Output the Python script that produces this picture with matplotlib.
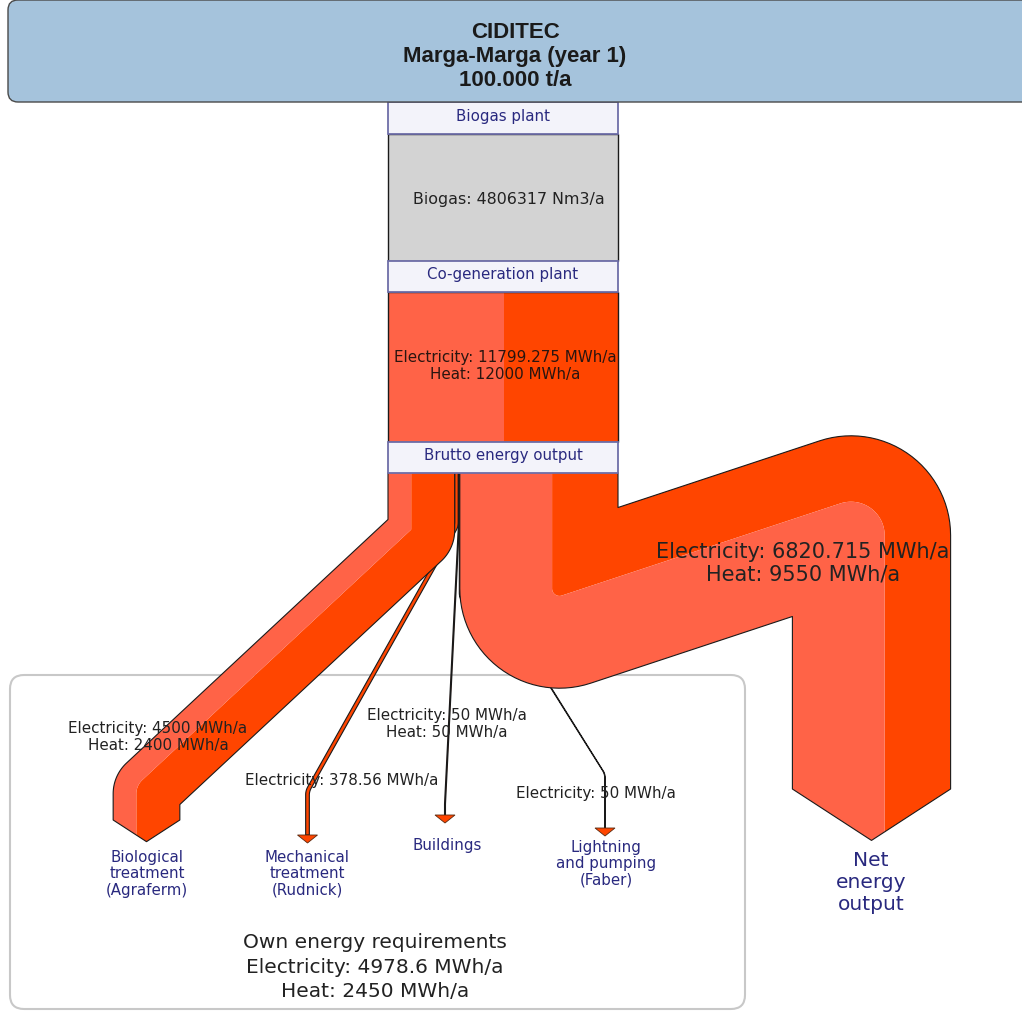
import numpy as np
import matplotlib
matplotlib.use("Agg")
import matplotlib.pyplot as plt
from matplotlib.patches import Rectangle, FancyBboxPatch, Polygon

# ---- data ----
title_lines = ["CIDITEC", "Marga-Marga (year 1)", "100.000 t/a"]
stages = ["Biogas plant", "Co-generation plant", "Brutto energy output"]
biogas_nm3 = 4806317
targets = ["Biological\ntreatment\n(Agraferm)", "Mechanical\ntreatment\n(Rudnick)",
           "Buildings", "Lightning\nand pumping\n(Faber)", "Net\nenergy\noutput"]
electricity = [4500, 378.56, 50, 50, 6820.715]
heat = [2400, 0, 50, 0, 9550]

# ---- layout (pixels) ----
X0, X1 = 388, 618            # main column
Y_OUT = 474                  # bottom of "Brutto energy output"
# centre-line waypoints after the start point (None -> start x)
routes = [
    [(None, 535), (146.5, 791), (146.5, 821)],
    [(None, 527), (307.5, 792), (307.5, 836)],
    [(None, 527), (445, 805), (445, 816)],
    [(None, 600), (548, 684), (605, 775), (605, 829)],
    [(None, 618), (871.5, 508), (871.5, 790)],
]
flow_label_pos = [(158, 737), (342, 781), (447, 724), (596, 794), (803, 563)]
target_label_pos = [(147, 874), (307, 874), (447, 846), (606, 864), (871, 883)]

HEAT_C = "#FF6347"
ELEC_C = "#FF4500"
NAVY = "#29297F"
TXT = "#222222"


def fmt(v, nd=3):
    s = ("%." + str(nd) + "f") % v
    return s.rstrip("0").rstrip(".")


def unit(v):
    return v / np.hypot(v[0], v[1])


def normal(u):
    return np.array([-u[1], u[0]])


def boundary(pts, off, w, bend):
    out = [pts[0] + normal(unit(pts[1] - pts[0])) * off]
    for i in range(1, len(pts) - 1):
        u1 = unit(pts[i] - pts[i - 1])
        u2 = unit(pts[i + 1] - pts[i])
        n1, n2 = normal(u1), normal(u2)
        z = u1[0] * u2[1] - u1[1] * u2[0]
        m = unit(n1 + n2)
        corner = pts[i] + m * off / np.dot(m, n1)
        if abs(z) < 1e-9:
            out.append(corner)
            continue
        # distance from the inner edge decides how round the corner is
        d = (w / 2 - off) if z > 0 else (off + w / 2)
        r = max(0.0, d - 0.37 * w) + bend
        phi = np.arccos(np.clip(np.dot(u1, u2), -1, 1))
        t = r * np.tan(phi / 2)
        a = corner - u1 * t
        b = corner + u2 * t
        c = a + (n1 if z > 0 else -n1) * r
        a0 = np.arctan2(a[1] - c[1], a[0] - c[0])
        a1 = np.arctan2(b[1] - c[1], b[0] - c[0])
        da = (a1 - a0 + np.pi) % (2 * np.pi) - np.pi
        for s in np.linspace(0, 1, 30):
            ang = a0 + da * s
            out.append(c + r * np.array([np.cos(ang), np.sin(ang)]))
    out.append(pts[-1] + normal(unit(pts[-1] - pts[-2])) * off)
    return np.array(out)


fig = plt.figure(figsize=(10.22, 10.12), dpi=100)
ax = fig.add_axes([0, 0, 1, 1])
ax.set_xlim(0, 1022)
ax.set_ylim(1012, 0)
ax.axis("off")

total_e = sum(electricity)
total_h = sum(heat)
scale = (X1 - X0) / (total_e + total_h)

# own energy requirements frame
own_e = sum(electricity[:-1])
own_h = sum(heat[:-1])
ax.add_patch(FancyBboxPatch((10, 676), 735, 334, boxstyle="round,pad=0,rounding_size=14",
                            fc="white", ec="#C8C8C8", lw=1.5, zorder=1))
ax.text(375, 943, "Own energy requirements", ha="center", va="center", fontsize=14.5, color=TXT, zorder=6)
ax.text(375, 968, "Electricity: " + fmt(own_e, 1) + " MWh/a", ha="center", va="center",
        fontsize=14.5, color=TXT, zorder=6)
ax.text(375, 992, "Heat: " + fmt(own_h, 1) + " MWh/a", ha="center", va="center",
        fontsize=14.5, color=TXT, zorder=6)

# flows
pos = X0
for i, (e, h) in enumerate(zip(electricity, heat)):
    w = (e + h) * scale
    wh = h * scale
    sx = pos + w / 2
    pos += w
    pts = [np.array([sx, Y_OUT], float)]
    for (px, py) in routes[i]:
        pts.append(np.array([sx if px is None else px, py], float))
    thin = w < 10
    bend = 14 if thin else 0
    z = 2 if thin else 3
    u_end = unit(pts[-1] - pts[-2])
    n_end = normal(u_end)
    depth = 0 if thin else 0.65 * w / 2

    def edge(off):
        b = boundary(pts, off, w, bend)
        b[-1] = pts[-1] + n_end * off + u_end * depth * (1 - abs(off) / (w / 2))
        return b

    tip = pts[-1] + u_end * depth
    bands = [(-w / 2, w / 2 - wh, ELEC_C), (w / 2 - wh, w / 2, HEAT_C)]
    for o1, o2, col in bands:
        if o2 - o1 <= 1e-6:
            continue
        poly = list(edge(o1))
        if o1 < 0 < o2:
            poly.append(tip)
        poly += list(edge(o2)[::-1])
        ax.add_patch(Polygon(poly, closed=True, fc=col, ec="none", zorder=z))
    left, right = edge(-w / 2), edge(w / 2)
    outline = np.vstack([left, tip[None, :], right[::-1]])
    ax.plot(outline[:, 0], outline[:, 1], color="#1a1a1a", lw=0.8, zorder=z + 0.1)
    if thin:
        base = pts[-1]
        head = [base + n_end * 10, base - n_end * 10, base + u_end * 8]
        ax.add_patch(Polygon(head, closed=True, fc=ELEC_C, ec="#5a2a10", lw=0.6, zorder=z + 0.2))

    lines = ["Electricity: " + fmt(e) + " MWh/a"]
    if h > 0:
        lines.append("Heat: " + fmt(h) + " MWh/a")
    big = i == len(targets) - 1
    fx, fy = flow_label_pos[i]
    ax.text(fx, fy, "\n".join(lines), ha="center", va="center", fontsize=15 if big else 10.9,
            color=TXT, linespacing=1.15, zorder=6)
    tx, ty = target_label_pos[i]
    ax.text(tx, ty, targets[i], ha="center", va="center", fontsize=14.5 if big else 10.8,
            color=NAVY, linespacing=1.2 if big else 1.12, zorder=6)

# main column
wh_tot = total_h * scale
ax.add_patch(Rectangle((X0, 293), wh_tot, 150, fc=HEAT_C, ec="none", zorder=4))
ax.add_patch(Rectangle((X0 + wh_tot, 293), X1 - X0 - wh_tot, 150, fc=ELEC_C, ec="none", zorder=4))
ax.add_patch(Rectangle((X0, 293), X1 - X0, 150, fc="none", ec="#1a1a1a", lw=1.0, zorder=4.1))
ax.text(505, 366, "Electricity: " + fmt(total_e) + " MWh/a\nHeat: " + fmt(total_h) + " MWh/a",
        ha="center", va="center", fontsize=10.9, color="#2a1510", linespacing=1.15, zorder=6)

ax.add_patch(Rectangle((X0, 135), X1 - X0, 127, fc="#D3D3D3", ec="#1a1a1a", lw=1.0, zorder=4))
ax.text(509, 199, "Biogas: " + str(biogas_nm3) + " Nm3/a", ha="center", va="center",
        fontsize=11.4, color=TXT, zorder=6)

for name, (y0, y1) in zip(stages, [(103, 135), (262, 293), (443, 474)]):
    ax.add_patch(Rectangle((X0, y0), X1 - X0, y1 - y0, fc="#F3F3FA", ec="#6E6EA8", lw=1.3, zorder=5))
    ax.text((X0 + X1) / 2, (y0 + y1) / 2 - 3, name, ha="center", va="center", fontsize=10.8,
            color=NAVY, zorder=6)

# title
ax.add_patch(FancyBboxPatch((8, 1), 1030, 102, boxstyle="round,pad=0,rounding_size=10",
                            fc="#A5C3DC", ec="#4a4a4a", lw=1.0, zorder=5))
for txt, y in zip(title_lines, [32, 56, 80]):
    ax.text(515, y, txt, ha="center", va="center", fontsize=16, fontweight="bold",
            fontstretch="normal", family=["Liberation Sans", "DejaVu Sans"],
            color="#1a1a1a", zorder=6)

fig.savefig("out.png", dpi=100, facecolor="white")
